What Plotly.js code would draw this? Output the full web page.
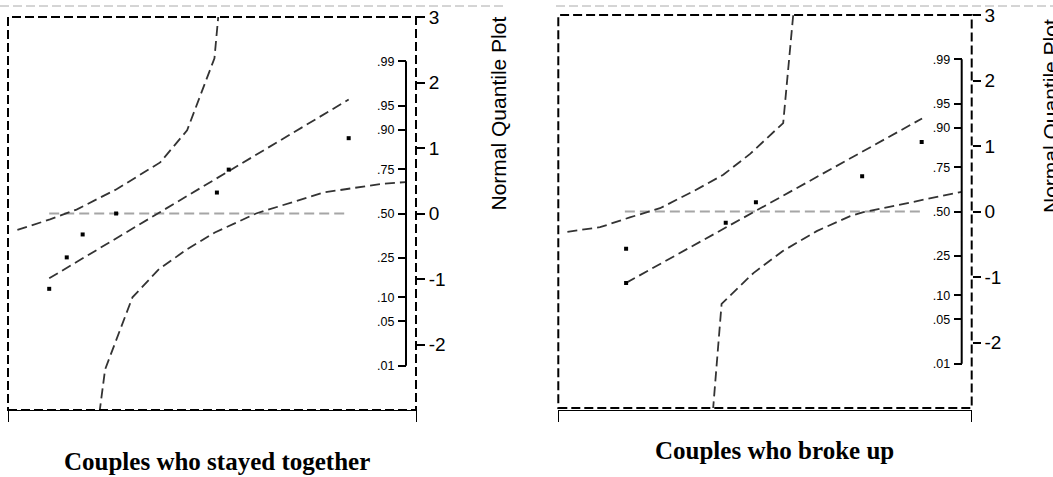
<!DOCTYPE html>
<html>
<head>
<meta charset="utf-8">
<script src="https://cdn.plot.ly/plotly-3.0.1.min.js"></script>
<style>html,body{margin:0;padding:0;background:#fff;}#chart{width:1053px;height:477px;}</style>
</head>
<body>
<div id="chart"></div>
<script>
// ---- Data ----
// Left panel: couples who stayed together
const leftX = [10.1, 14.4, 18.3, 26.5, 51.2, 54.1, 83.5];
const leftY = [-1.15, -0.67, -0.32, 0.00, 0.32, 0.67, 1.15];
const leftRefX = [10.1, 83.5];
const leftRefY = [-0.99, 1.74];
const leftUpperX = [2.3, 10.3, 16.8, 26.6, 37.3, 43.9, 50.6, 51.6];
const leftUpperY = [-0.25, -0.09, 0.06, 0.37, 0.78, 1.27, 2.37, 3.05];
const leftLowerX = [22.4, 23.8, 30.5, 37.0, 43.8, 50.7, 60.8, 77.3, 91.2, 97.5];
const leftLowerY = [-3.05, -2.38, -1.28, -0.85, -0.55, -0.29, 0.00, 0.32, 0.45, 0.48];
const leftMidX = [10.1, 83.0];
const leftMidY = [0, 0];

// Right panel: couples who broke up
const rightX = [16.4, 16.4, 40.5, 47.8, 73.5, 87.9];
const rightY = [-1.09, -0.57, -0.17, 0.14, 0.54, 1.06];
const rightRefX = [16.4, 88.0];
const rightRefY = [-1.09, 1.42];
const rightUpperX = [2.2, 10.1, 17.3, 24.6, 32.7, 39.9, 46.4, 54.4, 56.9];
const rightUpperY = [-0.31, -0.24, -0.09, 0.05, 0.31, 0.56, 0.88, 1.35, 3.05];
const rightLowerX = [37.4, 39.5, 47.2, 54.4, 62.5, 70.6, 73.8, 82.7, 97.6];
const rightLowerY = [-3.05, -1.41, -0.94, -0.60, -0.30, -0.07, -0.01, 0.11, 0.30];
const rightMidX = [16.1, 88.4];
const rightMidY = [0, 0];

// Axis ticks
const quantileTicks = [-2, -1, 0, 1, 2, 3];
const quantileLabels = ['-2', '-1', '0', '1', '2', '3'];
const probLabels = ['.01', '.05', '.10', '.25', '.50', '.75', '.90', '.95', '.99'];
const probZ = [-2.326, -1.645, -1.282, -0.674, 0, 0.674, 1.282, 1.645, 2.326];

const panelTitles = ['Couples who stayed together', 'Couples who broke up'];
const axisTitle = 'Normal Quantile Plot';

// ---- Styles ----
const bandLine = {color: '#333333', width: 1.8, dash: '10px,5px'};
const midLine = {color: '#a6a6a6', width: 2, dash: '10px,5px'};
const ptMarker = {symbol: 'square', size: 4, color: '#000'};

function lineTrace(x, y, xa, ya, style) {
  return {x: x, y: y, xaxis: xa, yaxis: ya, type: 'scatter', mode: 'lines',
          line: style, hoverinfo: 'skip', showlegend: false};
}

const traces = [
  lineTrace(leftMidX, leftMidY, 'x', 'y', midLine),
  lineTrace(leftUpperX, leftUpperY, 'x', 'y', bandLine),
  lineTrace(leftLowerX, leftLowerY, 'x', 'y', bandLine),
  lineTrace(leftRefX, leftRefY, 'x', 'y', bandLine),
  {x: leftX, y: leftY, xaxis: 'x', yaxis: 'y', type: 'scatter', mode: 'markers', marker: ptMarker, showlegend: false},
  lineTrace(rightMidX, rightMidY, 'x2', 'y2', midLine),
  lineTrace(rightUpperX, rightUpperY, 'x2', 'y2', bandLine),
  lineTrace(rightLowerX, rightLowerY, 'x2', 'y2', bandLine),
  lineTrace(rightRefX, rightRefY, 'x2', 'y2', bandLine),
  {x: rightX, y: rightY, xaxis: 'x2', yaxis: 'y2', type: 'scatter', mode: 'markers', marker: ptMarker, showlegend: false},
  // invisible traces to activate probability axes
  {x: [0], y: [0], xaxis: 'x', yaxis: 'y3', type: 'scatter', mode: 'markers', marker: {opacity: 0}, hoverinfo: 'skip', showlegend: false},
  {x: [0], y: [0], xaxis: 'x2', yaxis: 'y4', type: 'scatter', mode: 'markers', marker: {opacity: 0}, hoverinfo: 'skip', showlegend: false}
];

const W = 1053, H = 477;
const px = v => v / W;
const py = v => 1 - v / H;

function xAxis(domain) {
  return {domain: domain, range: [0, 100], showgrid: false, zeroline: false,
          showline: true, linecolor: '#000', linewidth: 1,
          ticks: 'outside', ticklen: 11, tickwidth: 1, tickcolor: '#000',
          tickvals: [0, 100], showticklabels: false, fixedrange: true};
}
function qAxis(domain, anchor) {
  return {domain: domain, range: [-3, 3], anchor: anchor, side: 'right',
          showgrid: false, zeroline: false, showline: false,
          ticks: 'outside', ticklen: 8, tickwidth: 2, tickcolor: '#000',
          tickvals: quantileTicks, ticktext: quantileLabels,
          tickfont: {family: 'Liberation Sans, Arial, sans-serif', size: 19, color: '#000'},
          fixedrange: true};
}
function pAxis(overlay, pos) {
  return {overlaying: overlay, anchor: 'free', position: pos, side: 'left', range: [-3, 3],
          showgrid: false, zeroline: false, showline: false,
          ticks: 'outside', ticklen: 8, tickwidth: 2, tickcolor: '#000',
          tickvals: probZ, ticktext: probLabels, ticklabelstandoff: 1,
          tickfont: {family: 'Liberation Sans, Arial, sans-serif', size: 12.5, color: '#000'},
          fixedrange: true};
}

const leftProbPos = px(406);
const rightProbPos = px(961.7);

const frame = (xr, yr) => ({type: 'rect', xref: xr + ' domain', yref: yr + ' domain', x0: 0, x1: 1, y0: 0, y1: 1,
                            line: {color: '#000', width: 2, dash: '9px,4px'}});

const layout = {
  width: W, height: H,
  margin: {l: 0, r: 0, t: 0, b: 0},
  paper_bgcolor: '#fff', plot_bgcolor: 'rgba(0,0,0,0)',
  showlegend: false,
  xaxis: xAxis([px(8), px(416)]),
  yaxis: qAxis([py(410), py(17)], 'x'),
  xaxis2: xAxis([px(558.3), px(971.7)]),
  yaxis2: qAxis([py(408), py(15)], 'x2'),
  yaxis3: pAxis('y', leftProbPos),
  yaxis4: pAxis('y2', rightProbPos),
  shapes: [
    frame('x', 'y'),
    frame('x2', 'y2'),
    {type: 'line', xref: 'paper', yref: 'y', x0: leftProbPos, x1: leftProbPos, y0: probZ[0], y1: probZ[probZ.length - 1], line: {color: '#000', width: 2}},
    {type: 'line', xref: 'paper', yref: 'y2', x0: rightProbPos, x1: rightProbPos, y0: probZ[0], y1: probZ[probZ.length - 1], line: {color: '#000', width: 2}},
    {type: 'line', xref: 'paper', yref: 'paper', x0: 0, x1: px(503), y0: py(6), y1: py(6), line: {color: '#aaa', width: 1, dash: '9px,4px'}},
    {type: 'line', xref: 'paper', yref: 'paper', x0: px(556), x1: 1, y0: py(6), y1: py(6), line: {color: '#aaa', width: 1, dash: '9px,4px'}}
  ],
  annotations: [
    {text: axisTitle, xref: 'paper', yref: 'paper', x: px(498), y: py(113.5), textangle: -90, showarrow: false,
     xanchor: 'center', yanchor: 'middle', font: {family: 'Liberation Sans, Arial, sans-serif', size: 21, color: '#000'}},
    {text: axisTitle, xref: 'paper', yref: 'paper', x: px(1050), y: py(116), textangle: -90, showarrow: false,
     xanchor: 'center', yanchor: 'middle', font: {family: 'Liberation Sans, Arial, sans-serif', size: 21, color: '#000'}},
    {text: '<b>' + panelTitles[0] + '</b>', xref: 'paper', yref: 'paper', x: px(217), y: py(461), showarrow: false,
     xanchor: 'center', yanchor: 'middle', font: {family: 'Liberation Serif, Times New Roman, serif', size: 25, color: '#000'}},
    {text: '<b>' + panelTitles[1] + '</b>', xref: 'paper', yref: 'paper', x: px(774), y: py(450), showarrow: false,
     xanchor: 'center', yanchor: 'middle', font: {family: 'Liberation Serif, Times New Roman, serif', size: 25, color: '#000'}}
  ]
};

Plotly.newPlot('chart', traces, layout, {staticPlot: true, displayModeBar: false});
</script>
</body>
</html>
